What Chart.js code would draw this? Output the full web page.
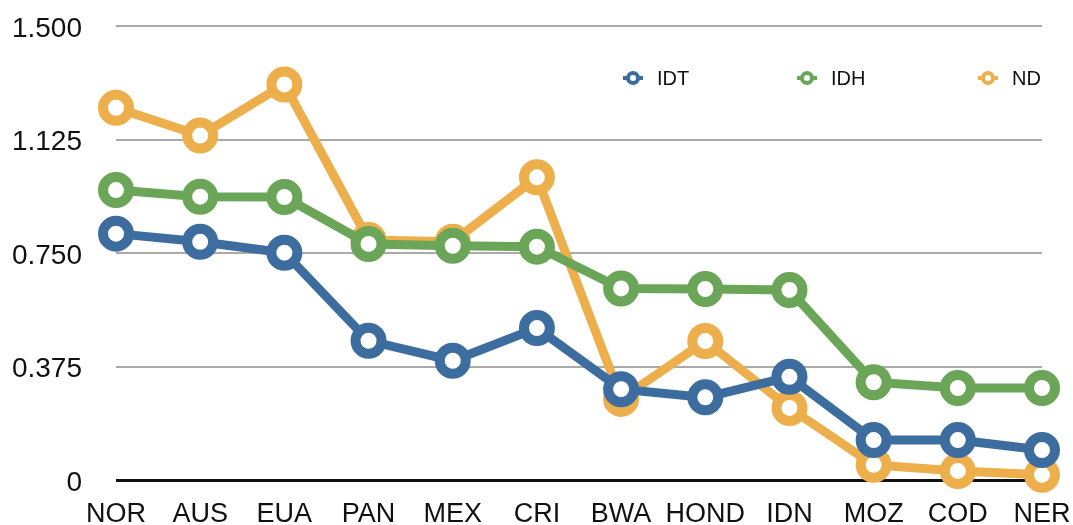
<!DOCTYPE html>
<html>
<head>
<meta charset="utf-8">
<script src="https://cdn.jsdelivr.net/npm/chart.js@4/dist/chart.umd.min.js"></script>
<style>
	html, body { margin: 0; padding: 0; background: #fff; }
	#wrap { width: 1073px; height: 525px; }
</style>
</head>
<body>
<div id="wrap"><canvas id="myChart" width="1073" height="525"></canvas></div>
<script>
const countries = ['NOR', 'AUS', 'EUA', 'PAN', 'MEX', 'CRI', 'BWA', 'HOND', 'IDN', 'MOZ', 'COD', 'NER'];
const idt = [0.814, 0.787, 0.751, 0.460, 0.394, 0.502, 0.300, 0.273, 0.341, 0.132, 0.132, 0.099];
const idh = [0.958, 0.936, 0.935, 0.780, 0.774, 0.771, 0.633, 0.631, 0.628, 0.323, 0.304, 0.304];
const nd = [1.230, 1.138, 1.307, 0.793, 0.787, 1.000, 0.268, 0.459, 0.238, 0.050, 0.030, 0.017];
const yTicks = [0, 0.375, 0.75, 1.125, 1.5];

const BLUE = '#3d6d9f';
const GREEN = '#6ba558';
const ORANGE = '#edaf4b';
const FONT = "'Liberation Sans', Helvetica, Arial, sans-serif";

function serie(label, data, color) {
	return {
		label: label,
		data: data,
		borderColor: color,
		backgroundColor: '#fff',
		borderWidth: 9,
		pointRadius: 13,
		pointHoverRadius: 13,
		pointBorderWidth: 10,
		pointBackgroundColor: '#fff',
		pointBorderColor: color,
		tension: 0,
		clip: false
	};
}

// legend drawn inside the plot, top right
const insideLegend = {
	id: 'insideLegend',
	afterDraw(chart) {
		const ctx = chart.ctx;
		const items = [
			{ x: 633, text: 'IDT', color: BLUE },
			{ x: 807, text: 'IDH', color: GREEN },
			{ x: 988, text: 'ND', color: ORANGE }
		];
		const y = 78;
		ctx.save();
		items.forEach(it => {
			ctx.strokeStyle = it.color;
			ctx.lineWidth = 4;
			ctx.beginPath();
			ctx.moveTo(it.x - 10, y);
			ctx.lineTo(it.x + 10, y);
			ctx.stroke();
			ctx.beginPath();
			ctx.arc(it.x, y, 5, 0, Math.PI * 2);
			ctx.fillStyle = '#fff';
			ctx.fill();
			ctx.stroke();
			ctx.fillStyle = '#111';
			ctx.font = '20px ' + FONT;
			ctx.textBaseline = 'middle';
			ctx.textAlign = 'left';
			ctx.fillText(it.text, it.x + 24, y + 1);
		});
		ctx.restore();
	}
};

new Chart(document.getElementById('myChart'), {
	type: 'line',
	data: {
		labels: countries,
		datasets: [serie('IDT', idt, BLUE), serie('IDH', idh, GREEN), serie('ND', nd, ORANGE)]
	},
	options: {
		responsive: false,
		animation: false,
		layout: { padding: { left: 0, right: 31, top: 26, bottom: 0 } },
		plugins: {
			legend: { display: false },
			tooltip: { enabled: false }
		},
		scales: {
			x: {
				offset: false,
				grid: { display: false, drawTicks: false },
				border: { display: false },
				ticks: {
					color: '#111',
					font: { family: FONT, size: 27 },
					padding: 18,
					maxRotation: 0,
					autoSkip: false
				},
				afterFit: scale => {
					scale.height = 45;
					scale.paddingLeft = 0;
					scale.paddingRight = 0;
				}
			},
			y: {
				min: 0,
				max: 1.5,
				afterBuildTicks: scale => {
					scale.ticks = yTicks.map(v => ({ value: v }));
				},
				grid: {
					drawTicks: false,
					color: ctx => (ctx.tick && ctx.tick.value === 0 ? '#111' : '#aaaaaa'),
					lineWidth: ctx => (ctx.tick && ctx.tick.value === 0 ? 3 : 2)
				},
				border: { display: false },
				ticks: {
					color: '#111',
					font: { family: FONT, size: 28 },
					padding: 34,
					labelOffset: 3,
					callback: v => (v === 0 ? '0' : v.toFixed(3))
				},
				afterFit: scale => {
					scale.width = 116;
					scale.paddingTop = 0;
					scale.paddingBottom = 0;
				}
			}
		}
	},
	plugins: [insideLegend]
});
</script>
</body>
</html>
